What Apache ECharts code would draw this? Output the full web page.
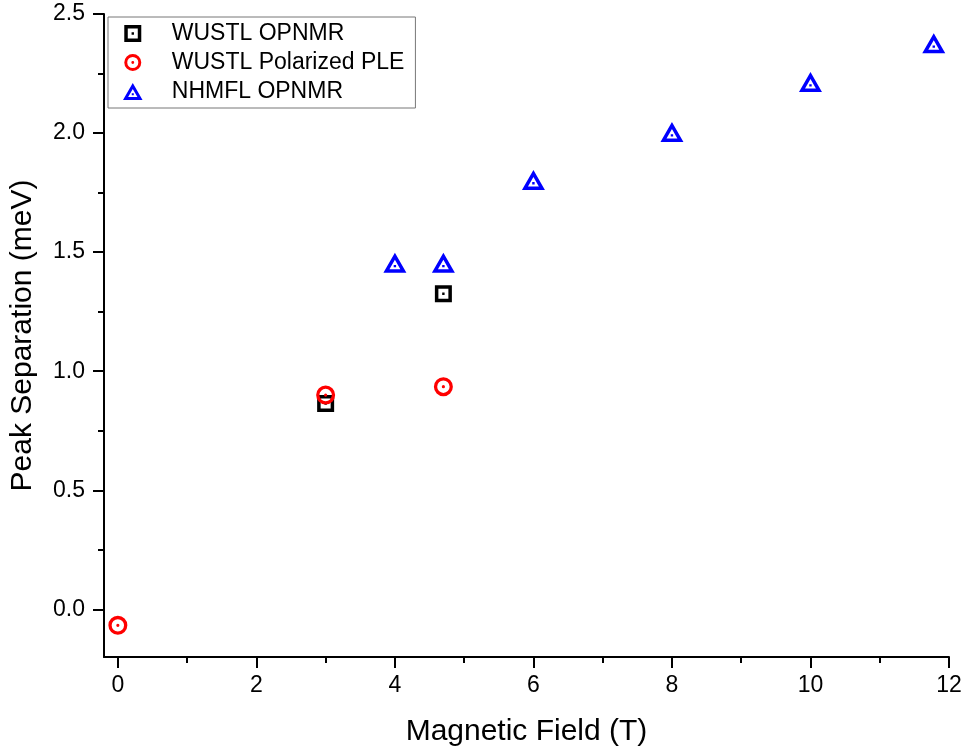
<!DOCTYPE html>
<html>
<head>
<meta charset="utf-8">
<script src="https://cdn.jsdelivr.net/npm/echarts@6/dist/echarts.min.js"></script>
<style>
html,body{margin:0;padding:0;background:#fff;}
#chart{width:968px;height:755px;}
</style>
</head>
<body>
<div id="chart"></div>
<script>
// Data
var seriesNames = ['WUSTL OPNMR', 'WUSTL Polarized PLE', 'NHMFL OPNMR'];
var wustlOpnmr = [[3.0, 0.864], [4.7, 1.325]];
var wustlPle = [[0.0, -0.067], [3.0, 0.90], [4.7, 0.935]];
var nhmflOpnmr = [[4.0, 1.455], [4.7, 1.455], [6.0, 1.803], [8.0, 2.004], [10.0, 2.214], [11.78, 2.377]];
var xMajorTicks = [0, 2, 4, 6, 8, 10, 12];
var xMinorTicks = [1, 3, 5, 7, 9, 11];
var yMajorTicks = [0.0, 0.5, 1.0, 1.5, 2.0, 2.5];
var yMinorTicks = [0.25, 0.75, 1.25, 1.75, 2.25];

var FONT = '"Liberation Sans", Arial, sans-serif';

// Hollow marker shapes with a centre dot (outer clockwise, inner counter-clockwise)
var squareSym = 'path://M0,0 L17,0 L17,17 L0,17 Z M3.5,3.5 L3.5,13.5 L13.5,13.5 L13.5,3.5 Z M7.3,7.3 L9.7,7.3 L9.7,9.7 L7.3,9.7 Z';
var circleSym = 'path://M0,9.5 A9.5,9.5 0 1,1 19,9.5 A9.5,9.5 0 1,1 0,9.5 Z M3.3,9.5 A6.2,6.2 0 1,0 15.7,9.5 A6.2,6.2 0 1,0 3.3,9.5 Z M7.9,9.5 A1.6,1.6 0 1,1 11.1,9.5 A1.6,1.6 0 1,1 7.9,9.5 Z';
var triSym = 'path://M11.5,0 L23,20 L0,20 Z M11.5,7.0 L6.05,16.5 L16.95,16.5 Z M10.3,12.1 L12.7,12.1 L12.7,14.5 L10.3,14.5 Z';

var chart = echarts.init(document.getElementById('chart'), null, {renderer: 'canvas'});

var axisLineStyle = {color: '#000', width: 2};

var option = {
  backgroundColor: '#fff',
  animation: false,
  grid: {left: 101, right: 19, top: 14, bottom: 98, containLabel: false},
  legend: {
    orient: 'vertical',
    left: 108,
    top: 17,
    padding: [5, 11, 5, 15],
    itemGap: 6,
    itemWidth: 20,
    itemHeight: 17,
    borderColor: '#777',
    borderWidth: 1,
    backgroundColor: '#fff',
    data: seriesNames,
    textStyle: {fontSize: 23, lineHeight: 23, color: '#000', fontFamily: FONT, padding: [0, 0, 0, 24]}
  },
  xAxis: [{
    type: 'value',
    min: -0.2,
    max: 12,
    position: 'bottom',
    name: 'Magnetic Field (T)',
    nameLocation: 'middle',
    nameGap: 60,
    nameTextStyle: {fontSize: 30, color: '#000', fontFamily: FONT},
    axisLine: {show: true, onZero: false, lineStyle: axisLineStyle},
    axisTick: {show: true, length: 11, lineStyle: {color: '#000', width: 2}, customValues: xMajorTicks},
    axisLabel: {show: true, margin: 17, fontSize: 23, color: '#000', fontFamily: FONT, customValues: xMajorTicks,
      formatter: function (v) { return String(Math.round(v)); }},
    splitLine: {show: false}
  }, {
    type: 'value',
    min: -0.2,
    max: 12,
    position: 'bottom',
    axisLine: {show: false, onZero: false},
    axisTick: {show: true, length: 6, lineStyle: {color: '#000', width: 2}, customValues: xMinorTicks},
    axisLabel: {show: false},
    splitLine: {show: false}
  }],
  yAxis: [{
    type: 'value',
    min: -0.2,
    max: 2.5,
    position: 'left',
    name: 'Peak Separation (meV)',
    nameLocation: 'middle',
    nameGap: 66,
    nameTextStyle: {fontSize: 30, color: '#000', fontFamily: FONT},
    axisLine: {show: true, onZero: false, lineStyle: axisLineStyle},
    axisTick: {show: true, length: 11, lineStyle: {color: '#000', width: 2}, customValues: yMajorTicks},
    axisLabel: {show: true, margin: 19, fontSize: 23, color: '#000', fontFamily: FONT, customValues: yMajorTicks,
      formatter: function (v) { return v.toFixed(1); }},
    splitLine: {show: false}
  }, {
    type: 'value',
    min: -0.2,
    max: 2.5,
    position: 'left',
    axisLine: {show: false, onZero: false},
    axisTick: {show: true, length: 6, lineStyle: {color: '#000', width: 2}, customValues: yMinorTicks},
    axisLabel: {show: false},
    splitLine: {show: false}
  }],
  series: [{
    name: seriesNames[0],
    type: 'scatter',
    xAxisIndex: 0, yAxisIndex: 0,
    symbol: squareSym,
    symbolSize: [17, 17],
    itemStyle: {color: '#000', borderWidth: 0, opacity: 1},
    data: wustlOpnmr,
    z: 3
  }, {
    name: seriesNames[1],
    type: 'scatter',
    xAxisIndex: 0, yAxisIndex: 0,
    symbol: circleSym,
    symbolSize: [19, 19],
    itemStyle: {color: '#ff0000', borderWidth: 0, opacity: 1},
    data: wustlPle,
    z: 4
  }, {
    name: seriesNames[2],
    type: 'scatter',
    xAxisIndex: 0, yAxisIndex: 0,
    symbol: triSym,
    symbolSize: [23, 20],
    itemStyle: {color: '#0000ff', borderWidth: 0, opacity: 1},
    data: nhmflOpnmr,
    z: 5
  }]
};
chart.setOption(option);
</script>
</body>
</html>
